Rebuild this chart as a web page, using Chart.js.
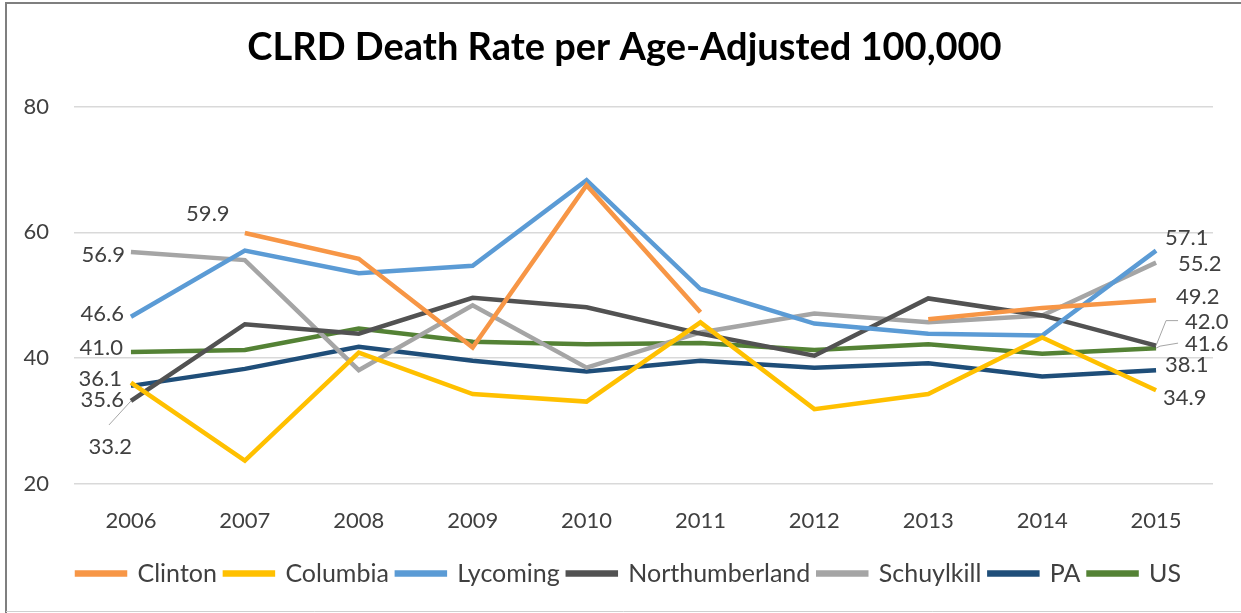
<!DOCTYPE html>
<html>
<head>
<meta charset="utf-8">
<script src="https://cdn.jsdelivr.net/npm/chart.js@4"></script>
<style>
  html, body { margin: 0; padding: 0; background: #fff; }
  #wrap { width: 1241px; height: 613px; }
</style>
</head>
<body>
<div id="wrap"><canvas id="clrd" width="1241" height="613"></canvas></div>
<script>
// values
var years = ["2006", "2007", "2008", "2009", "2010", "2011", "2012", "2013", "2014", "2015"];
var clinton        = [null, 59.9, 55.8, 41.7, 67.5, 47.3, null, 46.2, 48.0, 49.2];
var columbia       = [36.1, 23.7, 40.9, 34.3, 33.1, 45.7, 31.9, 34.3, 43.3, 34.9];
var lycoming       = [46.6, 57.1, 53.5, 54.7, 68.3, 51.0, 45.5, 43.9, 43.6, 57.1];
var northumberland = [33.2, 45.4, 43.9, 49.6, 48.1, 43.9, 40.4, 49.5, 46.8, 42.0];
var schuylkill     = [56.9, 55.6, 38.1, 48.4, 38.5, 44.1, 47.1, 45.7, 46.8, 55.2];
var pa             = [35.6, 38.3, 41.8, 39.6, 37.9, 39.6, 38.5, 39.2, 37.1, 38.1];
var us             = [41.0, 41.3, 44.7, 42.6, 42.2, 42.4, 41.3, 42.2, 40.7, 41.6];
var yTicks = [20, 40, 60, 80];

var FONT = "Lato, 'Open Sans', sans-serif";
var TEXT = "#404040";

function series(label, data, color) {
    return {
        label: label,
        data: data,
        borderColor: color,
        backgroundColor: color,
        borderWidth: 4.5,
        pointRadius: 0,
        tension: 0,
        spanGaps: false
    };
}

// where the end labels sit, relative to their point: [index, dx, dy, align, leader]
var labelSpots = {
    "Clinton":        [[1, -37, -19, "center"], [9, 20, -3, "left"]],
    "Columbia":       [[0, -9, -4, "right"], [9, 7, 8, "left"]],
    "Lycoming":       [[0, -7, -3, "right"], [9, 9, -13, "left"]],
    "Northumberland": [[0, 1, 46, "right", [[-22, 24]]], [9, 29, -24, "left", [[10, -25], [22, -25]]]],
    "Schuylkill":     [[0, -6, 3, "right"], [9, 22, 1, "left"]],
    "PA":             [[0, -7, 14, "right"], [9, 9, -5, "left"]],
    "US":             [[0, -8, -4, "right"], [9, 29, -4, "left", [[4, -2], [22, -5]]]]
};

var endLabels = {
    id: "endLabels",
    afterDatasetsDraw: function (chart) {
        var ctx = chart.ctx;
        ctx.save();
        ctx.font = "22px " + FONT;
        ctx.fillStyle = TEXT;
        ctx.textBaseline = "middle";
        chart.data.datasets.forEach(function (ds, i) {
            var spots = labelSpots[ds.label] || [];
            var meta = chart.getDatasetMeta(i);
            spots.forEach(function (s) {
                var pt = meta.data[s[0]];
                if (!pt || ds.data[s[0]] == null) return;
                if (s[4]) {
                    ctx.strokeStyle = "#a6a6a6";
                    ctx.lineWidth = 1;
                    ctx.beginPath();
                    ctx.moveTo(pt.x, pt.y);
                    s[4].forEach(function (p) { ctx.lineTo(pt.x + p[0], pt.y + p[1]); });
                    ctx.stroke();
                }
                ctx.textAlign = s[3];
                ctx.fillText(ds.data[s[0]].toFixed(1), pt.x + s[1], pt.y + s[2]);
            });
        });
        ctx.restore();
    }
};

// white background and the frame around the picture
var frame = {
    id: "frame",
    beforeDraw: function (chart) {
        var ctx = chart.ctx;
        ctx.save();
        ctx.fillStyle = "#fff";
        ctx.fillRect(0, 0, chart.width, chart.height);
        ctx.strokeStyle = "#7f7f7f";
        ctx.lineWidth = 2;
        ctx.beginPath();
        ctx.moveTo(6, chart.height);
        ctx.lineTo(6, 3);
        ctx.lineTo(chart.width, 3);
        ctx.stroke();
        ctx.strokeStyle = "#d0d0d0";
        ctx.lineWidth = 1;
        ctx.beginPath();
        ctx.moveTo(6, 611.5);
        ctx.lineTo(chart.width, 611.5);
        ctx.stroke();
        ctx.restore();
    }
};

// title and legend sit a little right of the canvas centre in the original
var nudgeBoxes = {
    id: "nudgeBoxes",
    afterLayout: function (chart) {
        var lg = chart.legend, tb = chart.titleBlock;
        if (lg) { lg.left += 45; lg.width -= 45; }
        if (tb) { tb.left += 36; tb.width -= 36; }
    }
};

var ctx = document.getElementById("clrd").getContext("2d");

new Chart(ctx, {
    type: "line",
    data: {
        labels: years,
        datasets: [
            series("Clinton", clinton, "#F79646"),
            series("Columbia", columbia, "#FFC000"),
            series("Lycoming", lycoming, "#5B9BD5"),
            series("Northumberland", northumberland, "#525252"),
            series("Schuylkill", schuylkill, "#A5A5A5"),
            series("PA", pa, "#1F4E79"),
            series("US", us, "#548235")
        ]
    },
    options: {
        responsive: false,
        animation: false,
        layout: { padding: { top: 10, left: 0, right: 28, bottom: 17 } },
        plugins: {
            title: {
                display: true,
                text: "CLRD Death Rate per Age-Adjusted 100,000",
                color: "#000",
                font: { family: FONT, size: 38, weight: "bold" },
                padding: { top: 15, bottom: 36 }
            },
            legend: {
                position: "bottom",
                labels: {
                    color: TEXT,
                    font: { family: FONT, size: 25 },
                    boxWidth: 48,
                    boxHeight: 2,
                    padding: 8
                }
            },
            tooltip: { enabled: false }
        },
        scales: {
            x: {
                offset: true,
                afterFit: function (scale) { scale.height = 69; },
                grid: { display: false, drawTicks: false },
                border: { display: false },
                ticks: { color: TEXT, font: { family: FONT, size: 22 }, padding: 24 }
            },
            y: {
                min: 20,
                max: 80,
                afterBuildTicks: function (scale) {
                    scale.ticks = yTicks.map(function (v) { return { value: v }; });
                },
                afterFit: function (scale) { scale.width = 74; },
                grid: { color: "#d9d9d9", lineWidth: 1.5, drawTicks: false },
                border: { display: false },
                ticks: { color: TEXT, font: { family: FONT, size: 22 }, padding: 25 }
            }
        }
    },
    plugins: [frame, nudgeBoxes, endLabels]
});
</script>
</body>
</html>
